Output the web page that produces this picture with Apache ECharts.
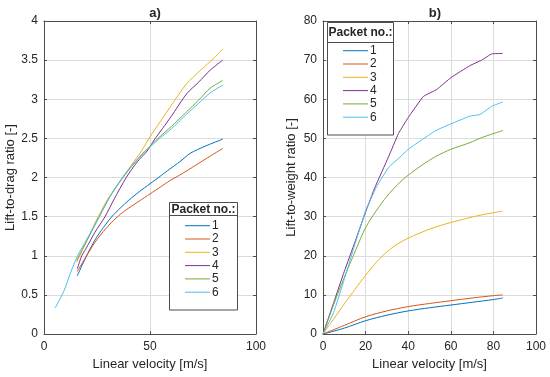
<!DOCTYPE html>
<html><head><meta charset="utf-8">
<script src="https://cdn.jsdelivr.net/npm/echarts@6/dist/echarts.min.js"></script>
<style>html,body{margin:0;padding:0;background:#fff}#c{width:550px;height:377px}</style>
</head><body><div id="c"></div>
<script>
// ---- data: Lift-to-drag ratio (panel a) ----
const ld1 = [[15.7,0.745],[20.1,1.0],[24,1.2],[28,1.36],[32,1.5],[36,1.61],[40,1.71],[45,1.82],[50,1.92],[55,2.02],[59.4,2.11],[64,2.2],[69,2.31],[76,2.4],[84.3,2.49]];
const ld2 = [[15.7,0.8],[20.1,1.0],[24,1.17],[28,1.31],[32,1.43],[36,1.53],[40,1.61],[45,1.7],[50,1.79],[55,1.88],[59.4,1.96],[64,2.03],[70,2.13],[77,2.25],[84.3,2.37]];
const ld3 = [[15.4,0.92],[20,1.18],[25,1.47],[30,1.72],[34,1.88],[37.2,2.0],[41,2.15],[46,2.34],[50,2.52],[55,2.72],[60,2.92],[67.3,3.2],[73,3.35],[78.3,3.48],[84.3,3.64]];
const ld4 = [[15.7,0.83],[17.8,1.0],[20,1.1],[24,1.3],[28.8,1.5],[33,1.72],[38.8,2.0],[44,2.2],[48.7,2.34],[52,2.48],[56,2.63],[60,2.78],[67.3,3.07],[73,3.22],[78.3,3.37],[84.3,3.5]];
const ld5 = [[15.4,0.94],[20,1.18],[26.1,1.5],[31,1.75],[37,2.0],[42,2.17],[47.6,2.34],[50,2.4],[55,2.53],[60,2.65],[67.3,2.84],[73,2.99],[78.3,3.14],[84.3,3.24]];
const ld6 = [[5.2,0.33],[9.4,0.55],[12.5,0.78],[15.8,1.0],[20,1.2],[26.1,1.5],[31,1.75],[37,1.99],[42,2.16],[47.6,2.33],[50,2.39],[55,2.51],[60,2.62],[67.3,2.81],[73,2.95],[78.3,3.08],[84.3,3.18]];
// ---- data: Lift-to-weight ratio (panel b) ----
const lw1 = [[0,0],[10,1.5],[20,3.4],[30,4.8],[40,5.9],[50,6.7],[60,7.4],[70,8.1],[80,8.8],[84.4,9.2]];
const lw2 = [[0,0],[10,2.2],[20,4.4],[30,5.9],[40,7.0],[50,7.8],[60,8.5],[70,9.2],[80,9.8],[84.4,10.0]];
const lw3 = [[0,0],[5,3.8],[10,7.7],[15,11.4],[20,15],[25,18.3],[30,21],[35,23],[40,24.5],[45,25.7],[50,26.8],[55,27.7],[60,28.5],[65,29.2],[70,29.9],[75,30.5],[80,31.0],[84.4,31.4]];
const lw4 = [[0,0],[5,8],[10,16],[15,23.5],[20,31.2],[24.4,37.5],[30.7,45.2],[35.4,51.2],[40.1,55.4],[47.1,60.7],[53.4,62.5],[60,65.5],[69,68.6],[74.5,70],[79.2,71.6],[84.4,71.7]];
const lw5 = [[0,0],[5,7.5],[10,14.5],[15,21],[20,27.2],[25,31.5],[30,35.2],[35,38.2],[40,40.6],[47.1,43.4],[53,45.4],[60,47.2],[69,48.9],[74.5,50.2],[84.4,52.0]];
const lw6 = [[0,0],[5,5.5],[10,14],[15,23],[20,31.5],[25,37.5],[30.7,42.5],[36.1,45.2],[40,47.2],[47.1,49.9],[53,52],[60,53.7],[69,55.7],[73.7,56.1],[79.2,58.2],[84.4,59.3]];
const packetNames = ['1','2','3','4','5','6'];
const colors = ['#0072BD','#D95319','#EDB120','#7E2F8E','#77AC30','#4DBEEE'];
const titles = ['a)','b)'];
const xName = 'Linear velocity [m/s]';
const yNames = ['Lift-to-drag ratio [-]','Lift-to-weight ratio [-]'];
const legendTitle = 'Packet no.:';

const FONT = 'Liberation Sans, Arial, Helvetica, sans-serif';
const AX = '#4d4d4d', TXT = '#262626', GRID = '#dcdcdc';

function mainX(gi, max, interval){
  return {type:'value', gridIndex:gi, min:0, max:max, interval:interval, position:'bottom',
    name:xName, nameLocation:'middle', nameGap:24,
    nameTextStyle:{fontFamily:FONT, fontSize:13, color:TXT},
    axisLine:{show:true, onZero:false, lineStyle:{color:AX, width:1}},
    axisTick:{show:true, inside:true, length:3, lineStyle:{color:AX}},
    axisLabel:{fontFamily:FONT, fontSize:12, color:TXT, margin:7},
    splitLine:{show:true, lineStyle:{color:GRID, width:1}}};
}
function mirrorX(gi, max, interval){
  return {type:'value', gridIndex:gi, min:0, max:max, interval:interval, position:'top',
    axisLine:{show:true, onZero:false, lineStyle:{color:AX, width:1}},
    axisTick:{show:true, inside:true, length:3, lineStyle:{color:AX}},
    axisLabel:{show:false}, splitLine:{show:false}};
}
function mainY(gi, max, interval, name, gap){
  return {type:'value', gridIndex:gi, min:0, max:max, interval:interval, position:'left',
    name:name, nameLocation:'middle', nameGap:gap,
    nameTextStyle:{fontFamily:FONT, fontSize:13, color:TXT},
    axisLine:{show:true, onZero:false, lineStyle:{color:AX, width:1}},
    axisTick:{show:true, inside:true, length:3, lineStyle:{color:AX}},
    axisLabel:{fontFamily:FONT, fontSize:12, color:TXT, margin:6},
    splitLine:{show:true, lineStyle:{color:GRID, width:1}}};
}
function mirrorY(gi, max, interval){
  return {type:'value', gridIndex:gi, min:0, max:max, interval:interval, position:'right',
    axisLine:{show:true, onZero:false, lineStyle:{color:AX, width:1}},
    axisTick:{show:true, inside:true, length:3, lineStyle:{color:AX}},
    axisLabel:{show:false}, splitLine:{show:false}};
}

const ldData = [ld1,ld2,ld3,ld4,ld5,ld6];
const lwData = [lw1,lw2,lw3,lw4,lw5,lw6];
const lwSmooth = [0.3,0.3,0.3,0.1,0.25,0.1];
const series = [];
ldData.forEach((d,i)=>series.push({type:'line', name:packetNames[i], xAxisIndex:0, yAxisIndex:0, data:d,
  showSymbol:false, symbol:'none', smooth:0.25, lineStyle:{width:1, color:colors[i]}, itemStyle:{color:colors[i]}, z:3}));
lwData.forEach((d,i)=>series.push({type:'line', name:packetNames[i], xAxisIndex:2, yAxisIndex:2, data:d,
  showSymbol:false, symbol:'none', smooth:lwSmooth[i], lineStyle:{width:1, color:colors[i]}, itemStyle:{color:colors[i]}, z:3}));

function legendCfg(left, top){
  return {orient:'vertical', left:left, top:top, padding:0, itemWidth:25, itemHeight:14, itemGap:1.3,
    icon:'path://M0,7 L25,7 L25,8 L0,8 Z', selectedMode:false, z:20,
    textStyle:{fontFamily:FONT, fontSize:12, color:TXT, padding:[0,0,0,-3]}, data:packetNames};
}
function legendBox(x, y, w, h, sepY){
  return [
    {type:'rect', z:10, shape:{x:x, y:y, width:w, height:h}, style:{fill:'#fff', stroke:AX, lineWidth:1}},
    {type:'line', z:11, shape:{x1:x, y1:sepY, x2:x+w, y2:sepY}, style:{stroke:AX, lineWidth:1}},
    {type:'text', z:21, x:x+w/2, y:y+(sepY-y)/2+0.5, style:{text:legendTitle, fontFamily:FONT, fontSize:12, fontWeight:'bold', fill:TXT, align:'center', verticalAlign:'middle'}}
  ];
}

const option = {
  animation:false,
  backgroundColor:'#fff',
  title:[
    {text:titles[0], left:150, top:2, textAlign:'center', textStyle:{fontFamily:FONT, fontSize:13, fontWeight:'bold', color:TXT}},
    {text:titles[1], left:430, top:2, textAlign:'center', textStyle:{fontFamily:FONT, fontSize:13, fontWeight:'bold', color:TXT}}
  ],
  grid:[
    {left:44, right:294, top:21, bottom:43},
    {left:323, right:14, top:21, bottom:43}
  ],
  xAxis:[mainX(0,100,50), mirrorX(0,100,50), mainX(1,100,20), mirrorX(1,100,20)],
  yAxis:[mainY(0,4,0.5,yNames[0],27), mirrorY(0,4,0.5), mainY(1,80,10,yNames[1],25), mirrorY(1,80,10)],
  legend:[legendCfg(185, 219.7), legendCfg(343, 44.7)],
  graphic:[...legendBox(169.5, 202.5, 68, 107.5, 215.5), ...legendBox(327.5, 22.5, 66, 112.5, 42.5)],
  series:series
};
const chart = echarts.init(document.getElementById('c'), null, {renderer:'canvas'});
chart.setOption(option);
</script></body></html>
